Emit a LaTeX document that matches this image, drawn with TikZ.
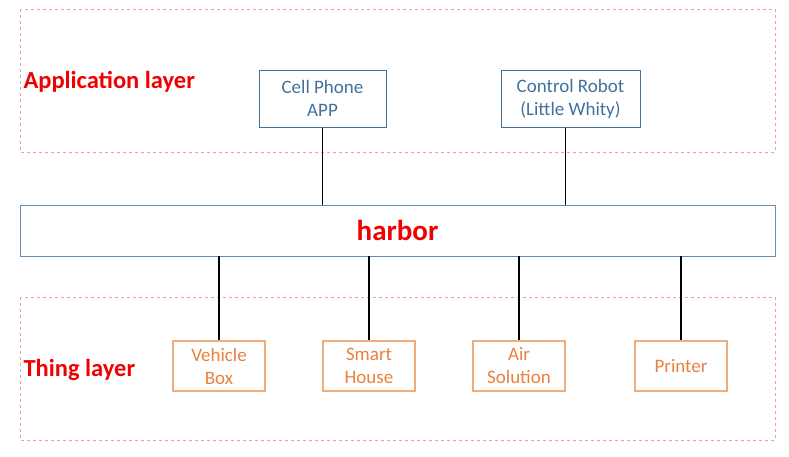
\documentclass[tikz,border=0pt]{standalone}
\usepackage{fontspec}
\setmainfont{Carlito}
\usetikzlibrary{arrows.meta}

\definecolor{appblue}{HTML}{41719C}
\definecolor{thingorange}{HTML}{E9803D}
\definecolor{thingedge}{HTML}{F2AB7A}
\definecolor{framered}{HTML}{F19C9C}
\definecolor{labelred}{HTML}{F00000}

\tikzset{
  layerframe/.style={draw=framered, dashed, line width=0.6pt},
  layerlabel/.style={anchor=west, text=labelred, font=\fontsize{24.5}{28}\selectfont\bfseries},
  appbox/.style={draw=appblue, line width=1pt, text=appblue, align=center,
    minimum width=127pt, minimum height=57pt, inner sep=0pt, font=\fontsize{19}{23}\selectfont},
  thingbox/.style={draw=thingedge, line width=1.4pt, text=thingorange, align=center,
    minimum width=92pt, minimum height=50pt, inner sep=0pt, font=\fontsize{19}{23}\selectfont},
  link/.style={draw=black, line width=1.8pt},
}

\begin{document}
\begin{tikzpicture}[x=1pt, y=-1pt]
      \useasboundingbox (0,0) rectangle (789,456);
      % layers
      \draw[layerframe] (20,9) rectangle (775,152);
      \draw[layerframe] (20,297) rectangle (775,440);
      \node[layerlabel] (applabel) at (20,82) {Application layer};
      \node[layerlabel] (thinglabel) at (20,370) {Thing layer};
      % harbor
      \node[draw=appblue!80, line width=0.9pt, minimum width=755pt, minimum height=51pt,
        text=labelred, font=\fontsize{29}{34}\selectfont\bfseries] (harbor) at (397.5,230.5) {harbor};
      % application layer
      \node[appbox] (phone) at (322.5,98.5) {Cell Phone\\APP};
      \node[appbox, minimum width=139pt] (robot) at (570.5,98.5) {Control Robot\\(Little Whity)};
      % thing layer
      \node[thingbox] (vehicle) at (219,366) {Vehicle\\Box};
      \node[thingbox] (house) at (369,366) {Smart\\House};
      \node[thingbox] (air) at (519,366) {Air\\Solution};
      \node[thingbox] (printer) at (681,366) {Printer};
      % connectors
      \draw[link] (phone.south) -- (phone.south |- harbor.north);
      \draw[link] ([xshift=-5pt]robot.south) -- ([xshift=-5pt]robot.south |- harbor.north);
      \foreach \t in {vehicle, house, air, printer}
        \draw[link] (\t.north |- harbor.south) -- (\t.north);
\end{tikzpicture}
\end{document}
